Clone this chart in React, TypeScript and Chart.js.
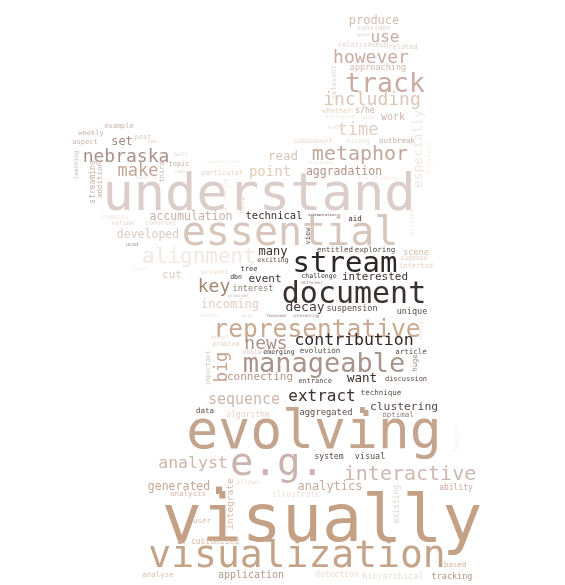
import { useEffect, useRef } from 'react';
import { Chart, registerables } from 'chart.js';

Chart.register(...registerables);

// word cloud terms, font size (px), centre position (x, y in page px), rotation and colour
const WORDS = [
  'understand', 'essential', 'stream', 'document', 'representative', 'manageable', 'contribution',
  'evolving', 'visually', 'visualization', 'e.g.', 'track', 'including', 'however', 'use', 'produce',
  'consider', 'relationship', 'related', 'approaching', 'relevant', 'whether', 's/he', 'surveying',
  'work', 'time', 'especially', 'progress', 'made', 'subsequent', 'mining', 'outbreak', 'metaphor',
  'aggradation', 'read', 'point', 'nebraska', 'make', 'set', 'post', 'example', 'weekly', 'aspect',
  'learning', 'streaming', 'addition', 'third', 'topic', 'particular', 'help', 'microblog',
  'accumulation', 'remains', 'volume', 'coherent', 'technical', 'developed', 'alignment', 'text',
  'cut', 'many', 'exciting', 'tree', 'dbn', 'present', 'event', 'key', 'interest', 'incoming',
  'worker', 'u.s.', 'decay', 'suspension', 'unique', 'challenge', 'interested', 'newly', 'evolution',
  'emerging', 'ebola', 'article', 'huge', 'entrance', 'want', 'discussion', 'extract', 'technique',
  'clustering', 'aggregated', 'optimal', 'system', 'visual', 'interactive', 'analytics', 'ability',
  'existing', 'feature', 'based', 'tracking', 'hierarchical', 'detection', 'application', 'analyze',
  'customized', 'user', 'integrate', 'allows', 'illustrate', 'generated', 'analysis', 'analyst',
  'sequence', 'data', 'algorithm', 'important', 'model', 'problem', 'news', 'big', 'connecting',
  'view', 'entitled', 'exploring', 'aid', 'sedimentation', 'arrives', 'scene', 'suppose', 'infected',
  '.', '.', '.', 'cnn', 'built', 'task', 'severity', 'comprehensible', 'effectively', 'flow',
  'following', 'anchor', 'will', 'different', 'interesting', 'proposed', 'thousand', 'ucsd',
];

const SIZES = [
  52, 40, 29, 30, 24.6, 27, 16.5,
  53, 66.6, 38, 39, 26.5, 18, 18, 16, 12,
  7, 7, 7, 8.5, 7, 7, 8, 5.5,
  10, 17, 13, 7, 6, 6.5, 6.5, 7.5, 20,
  11.5, 12.5, 14, 18, 17, 12, 7, 7, 7, 7,
  6, 8, 7.5, 7, 7, 7, 7, 6,
  11.5, 6.5, 6.5, 6.5, 10.5, 11.5, 21, 6.5,
  11, 12, 6.5, 7, 6.5, 6.5, 11, 18, 8.5, 12,
  5.5, 5, 13, 8.5, 8.5, 6.5, 11, 6, 7.5,
  6.5, 6.5, 7.5, 7, 7, 12.5, 7, 16, 7.5,
  11.3, 8.8, 7.5, 8, 8.5, 20, 12, 8,
  8, 7, 7.5, 8.5, 8.5, 8, 10, 7.5,
  8, 7.5, 9.5, 6.5, 8, 11.5, 7.5, 16.5,
  15, 7.5, 8, 6.5, 6, 6.5, 18, 17, 11,
  7, 7.5, 7.5, 7.5, 3.5, 6.5, 8.5, 6.5, 7,
  40, 50, 28, 5, 4.5, 4.5, 4.5, 4, 4, 4,
  4.5, 4, 4.5, 4, 4, 4, 4, 5,
];

const X = [
  259, 290, 345, 354, 317, 324, 354,
  314, 322, 297, 277, 385, 372, 371, 385, 374,
  374, 363, 403, 378, 334, 337, 365, 340,
  393, 358, 418, 429, 335, 313, 358, 397, 360,
  344, 283, 270, 126, 138, 122, 143, 119, 91, 85,
  76, 93, 100, 162, 179, 222, 242, 225,
  191, 115, 123, 161, 274, 148, 199, 140,
  172, 273, 273, 249, 236, 215, 265, 214, 253, 230,
  210, 248, 305, 352, 412, 319, 375, 420, 320,
  279, 252, 411, 415, 315, 362, 406, 322, 381,
  404, 326, 398, 329, 370, 410, 330, 456,
  397, 457, 455, 452, 393, 337, 251, 158,
  215, 202, 230, 248, 296, 179, 188, 193,
  244, 205, 248, 208, 220, 226, 266, 222, 260,
  308, 335, 375, 355, 322, 412, 416, 414, 416,
  366, 219, 180, 152, 181, 180, 146, 222, 321, 363,
  385, 364, 368, 312, 306, 238, 276, 132,
];

const Y = [
  196, 234, 264, 295, 330, 365, 341,
  434, 523, 557, 464, 85, 100, 58, 38, 21,
  28, 45, 47, 68, 82, 111, 111, 117,
  117, 130, 149, 158, 127, 141, 141, 141, 155,
  172, 157, 172, 157, 171, 142, 137, 126, 133, 142,
  165, 182, 180, 172, 164, 173, 205, 195,
  217, 217, 223, 223, 216, 235, 257, 269,
  275, 252, 260, 269, 277, 272, 279, 287, 289, 305,
  316, 316, 307, 309, 312, 276, 277, 330, 351,
  352, 352, 352, 363, 381, 379, 379, 397, 393,
  407, 413, 415, 457, 457, 475, 487, 488,
  504, 438, 565, 577, 577, 575, 575, 575,
  542, 521, 504, 482, 495, 487, 494, 464,
  400, 411, 415, 368, 337, 344, 344, 367, 377,
  236, 250, 250, 219, 215, 222, 253, 258, 266,
  405, 480, 536, 142, 155, 172, 178, 162, 163, 178,
  178, 35, 118, 283, 316, 296, 316, 245,
];

// 1 = written bottom-to-top
const VERTICAL = [
  0, 0, 0, 0, 0, 0, 0,
  0, 0, 0, 0, 0, 0, 0, 0, 0,
  0, 0, 0, 0, 1, 0, 0, 0,
  0, 0, 1, 1, 0, 0, 0, 0, 0,
  0, 0, 0, 0, 0, 0, 0, 0, 0, 0,
  1, 1, 1, 1, 0, 0, 1, 1,
  0, 0, 0, 0, 0, 0, 0, 0,
  0, 0, 0, 0, 0, 0, 0, 0, 0, 0,
  0, 0, 0, 0, 0, 0, 0, 1, 0,
  0, 0, 0, 1, 0, 0, 0, 0, 0,
  0, 0, 0, 0, 0, 0, 0, 0,
  1, 1, 0, 0, 0, 0, 0, 0,
  0, 0, 1, 0, 0, 0, 0, 0,
  0, 0, 0, 1, 0, 0, 0, 1, 0,
  1, 0, 0, 0, 0, 1, 0, 0, 0,
  0, 0, 0, 0, 0, 0, 0, 0, 0, 0,
  0, 0, 0, 0, 0, 0, 0, 0,
];

const COLORS = [
  '#dacdca', '#d6c6bb', '#2e2626', '#3a302f', '#c8a890', '#a8948a', '#2e2626',
  '#c4a48c', '#c4a084', '#c4a488', '#c9b3ac', '#c9aba2', '#dcc6b6', '#c8aba2', '#c8aca4', '#d3bdb0',
  '#e0d4cc', '#e0d0c8', '#e0d0c8', '#d0b8b0', '#e4d4cc', '#e8d2b8', '#c8b0a8', '#f0e8e0',
  '#d0b4ac', '#e0d0c4', '#efe6e2', '#f2ece8', '#f0e6e0', '#e8d8cc', '#ece0d8', '#c8b0a4', '#c0a89c',
  '#b49484', '#d8c4b8', '#e4ccb8', '#a89088', '#c4a494', '#a88c84', '#d8c8c0', '#c8b0a4', '#c8b0a4', '#c8b0a4',
  '#c8b4ac', '#c8b0a4', '#c8b0a4', '#c8b0a4', '#c8b0a4', '#e8d4c4', '#e0d0c8', '#f0e8e4',
  '#c8b0a4', '#f0e6e0', '#e8d8cc', '#e8d8cc', '#3a302f', '#dccbc4', '#f0e8e4', '#f2ebe8',
  '#dccbbc', '#3a302f', '#5a4a48', '#3a302f', '#3a302f', '#ecdcd0', '#3a302f', '#a4846f', '#8c7c74', '#e0cec4',
  '#efe6e0', '#d8c8c0', '#4a3a38', '#5a4a48', '#5a4a48', '#3a302f', '#3a302f', '#ece2dc', '#5a4a48',
  '#3a302f', '#e0c8c0', '#5a4a48', '#8c7c74', '#5a4a48', '#3a302f', '#5a4a48', '#3a302f', '#5a4a48',
  '#5a4848', '#5a4a48', '#8c7c74', '#5a4a48', '#5a4a48', '#cdb8b0', '#c8a898', '#c8a898',
  '#e4d4cc', '#f2ece8', '#d4b49c', '#b49484', '#e8dcd4', '#ecdcd0', '#b49888', '#d8c0b0',
  '#d4b8a4', '#d4c0b4', '#d4b8a4', '#ece0d8', '#ece0d8', '#c8a890', '#d4b8a4', '#cdb6a8',
  '#ccb6ae', '#5a4a48', '#e4d4cc', '#d8c4b8', '#ece0d8', '#e0d0c4', '#a89088', '#c4a490', '#b49484',
  '#5a4a48', '#5a4a48', '#5a4a48', '#3a302f', '#5a4a48', '#f0e8e4', '#d8b8a0', '#e8d0c4', '#e4d4c8',
  '#c4a490', '#c4a084', '#c8a890', '#d8c8c0', '#e0d4cc', '#e0d4cc', '#e8dcd4', '#f0e8e4', '#e8dcd4', '#f0e8e4',
  '#f0e8e4', '#d8c8c0', '#e0d4cc', '#8c7c74', '#8c7c74', '#c8b8b0', '#8c7c74', '#8c7c74',
];

const wordPlugin = {
  id: 'wordLabels',
  afterDatasetsDraw: (chart: any) => {
    const { ctx } = chart;
    const meta = chart.getDatasetMeta(0);
    ctx.save();
    ctx.textAlign = 'center';
    ctx.textBaseline = 'alphabetic';
    meta.data.forEach((pt: any, i: number) => {
      const size = SIZES[i];
      ctx.save();
      ctx.font = `${size}px "DejaVu Sans Mono"`;
      ctx.fillStyle = COLORS[i];
      ctx.translate(pt.x, pt.y);
      if (VERTICAL[i]) ctx.rotate(-Math.PI / 2);
      ctx.fillText(WORDS[i], 0, size * 0.27);
      ctx.restore();
    });
    ctx.restore();
  },
};

function WordCloud() {
  const canvasRef = useRef<HTMLCanvasElement | null>(null);

  useEffect(() => {
    let chart: Chart | null = null;
    if (canvasRef.current) {
      chart = new Chart(canvasRef.current, {
        type: 'scatter',
        data: {
          datasets: [
            {
              label: 'words',
              data: WORDS.map((_, i) => ({ x: X[i], y: Y[i] })),
              pointRadius: 0,
              pointHoverRadius: 0,
            },
          ],
        },
        options: {
          animation: false,
          responsive: true,
          maintainAspectRatio: false,
          layout: { padding: 0 },
          plugins: { legend: { display: false }, tooltip: { enabled: false } },
          events: [],
          scales: {
            x: { type: 'linear', min: 0, max: 565, display: false },
            y: { type: 'linear', min: 0, max: 585, reverse: true, display: false },
          },
        } as any,
        plugins: [wordPlugin],
      }) as Chart;
    }
    return () => {
      if (chart) chart.destroy();
    };
  }, []);

  return (
    <div style={{ position: 'fixed', left: 0, top: 0, width: '565px', height: '585px', background: '#fff' }}>
      <canvas ref={canvasRef} />
    </div>
  );
}

export default function App() {
  return <WordCloud />;
}
